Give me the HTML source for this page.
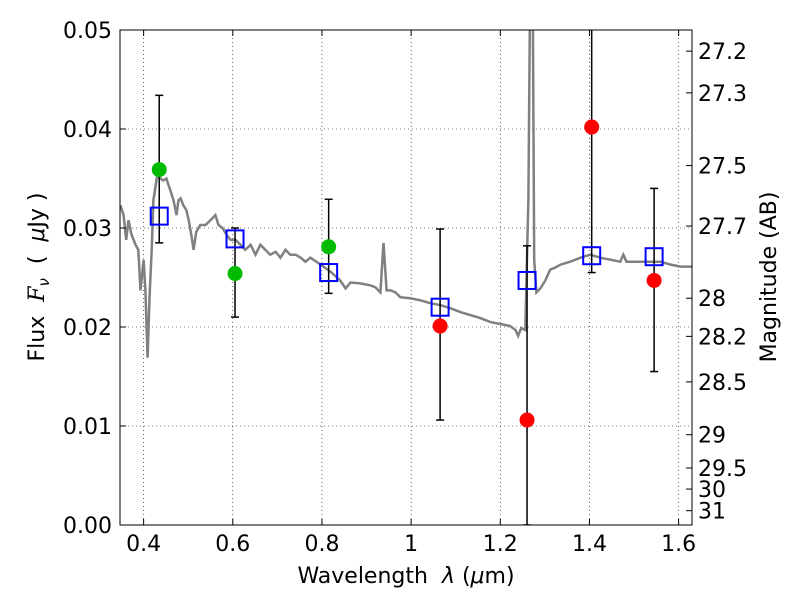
<!DOCTYPE html>
<html><head><meta charset="utf-8"><style>
body{margin:0;background:#fff}
svg text{font-family:"DejaVu Sans","Liberation Sans",sans-serif;fill:#000;white-space:pre}
</style></head><body>
<svg id="chart" width="800" height="600" xmlns="http://www.w3.org/2000/svg">
<defs><clipPath id="clip"><rect x="120" y="30" width="572" height="495"/></clipPath></defs>
<g id="grid"></g>
<g id="spec" clip-path="url(#clip)"></g>
<g id="marks" clip-path="url(#clip)"></g>
<rect x="120" y="30" width="572" height="495" fill="none" stroke="#000" stroke-width="1"/>
<g id="axes"></g>
<text x="406" y="583" font-size="22" text-anchor="middle">Wavelength  <tspan font-style="italic">λ</tspan> (<tspan font-style="italic">μ</tspan>m)</text>
<text transform="translate(44,277) rotate(-90)" font-size="22" text-anchor="middle">Flux  <tspan font-style="italic" font-family="DejaVu Serif">F</tspan><tspan font-size="15" dy="5" font-style="italic">ν</tspan><tspan dy="-5">  (  <tspan font-style="italic">μ</tspan>Jy )</tspan></text>
<text transform="translate(776,277) rotate(-90)" font-size="22" text-anchor="middle">Magnitude (AB)</text>
</svg>
<script>
const specX=[0.348,0.355,0.361,0.366,0.373,0.382,0.388,0.393,0.400,0.404,0.409,0.413,0.418,0.422,0.431,0.438,0.444,0.451,0.456,0.460,0.467,0.474,0.478,0.483,0.489,0.496,0.501,0.507,0.512,0.518,0.527,0.539,0.550,0.561,0.568,0.577,0.586,0.595,0.606,0.617,0.628,0.640,0.651,0.662,0.673,0.684,0.696,0.707,0.718,0.729,0.741,0.752,0.763,0.774,0.797,0.819,0.841,0.853,0.864,0.886,0.909,0.920,0.931,0.938,0.945,0.954,0.965,0.976,0.998,1.021,1.043,1.066,1.088,1.111,1.133,1.155,1.178,1.200,1.222,1.234,1.240,1.247,1.256,1.263,1.268,1.272,1.276,1.281,1.290,1.301,1.312,1.323,1.335,1.357,1.380,1.402,1.424,1.447,1.469,1.476,1.483,1.514,1.559,1.582,1.604,1.631];
const specY=[0.0323,0.0313,0.0288,0.0308,0.0293,0.0283,0.0278,0.0237,0.0268,0.0237,0.0169,0.0227,0.0278,0.0328,0.0354,0.0350,0.0348,0.0350,0.0343,0.0338,0.0328,0.0313,0.0328,0.0330,0.0323,0.0318,0.0308,0.0293,0.0278,0.0296,0.0303,0.0303,0.0308,0.0313,0.0303,0.0300,0.0293,0.0288,0.0288,0.0283,0.0278,0.0283,0.0273,0.0283,0.0278,0.0273,0.0276,0.0270,0.0278,0.0273,0.0273,0.0270,0.0266,0.0270,0.0263,0.0256,0.0247,0.0239,0.0245,0.0244,0.0242,0.0240,0.0235,0.0285,0.0237,0.0237,0.0235,0.0230,0.0229,0.0227,0.0224,0.0222,0.0219,0.0215,0.0212,0.0209,0.0205,0.0203,0.0201,0.0197,0.0191,0.0199,0.0197,0.0330,0.0600,0.0600,0.0268,0.0235,0.0239,0.0247,0.0258,0.0260,0.0263,0.0266,0.0270,0.0273,0.0270,0.0268,0.0266,0.0273,0.0266,0.0266,0.0266,0.0263,0.0261,0.0261];
const bands=[0.435,0.605,0.815,1.065,1.26,1.405,1.545];
const obsFlux=[0.0359,0.0254,0.0281,0.0201,0.0106,0.0402,0.0247];
const obsColor=["#00bb00","#00bb00","#00bb00","#ff0000","#ff0000","#ff0000","#ff0000"];
const errLo=[0.0285,0.0210,0.0234,0.0106,0.0,0.0255,0.0155];
const errHi=[0.0434,0.0300,0.0329,0.0299,0.0282,0.0600,0.0340];
const modelFlux=[0.0312,0.0289,0.0255,0.0220,0.0247,0.0272,0.0271];
const xTicks=[0.4,0.6,0.8,1.0,1.2,1.4,1.6];
const xLabels=["0.4","0.6","0.8","1","1.2","1.4","1.6"];
const yTicks=[0,0.01,0.02,0.03,0.04,0.05];
const yLabels=["0.00","0.01","0.02","0.03","0.04","0.05"];
const magTicks=[27.2,27.3,27.5,27.7,28,28.2,28.5,29,29.5,30,31];

const X0=0.347,X1=1.630,Y0=0,Y1=0.05,L=120,R=692,T=30,B=525;
const sx=v=>L+(v-X0)/(X1-X0)*(R-L);
const sy=v=>B-(v-Y0)/(Y1-Y0)*(B-T);
const NS="http://www.w3.org/2000/svg";
function mk(tag,parent,attrs){const e=document.createElementNS(NS,tag);for(const k in attrs)e.setAttribute(k,attrs[k]);parent.appendChild(e);return e;}
const grid=document.getElementById('grid'),axes=document.getElementById('axes'),spec=document.getElementById('spec'),marks=document.getElementById('marks');
xTicks.forEach((t,i)=>{const x=sx(t);
 const g=mk('line',grid,{x1:x,x2:x,y1:T,y2:B,stroke:'#000','stroke-width':0.6,'stroke-dasharray':'1,3'});
 
 mk('line',axes,{x1:x,x2:x,y1:B,y2:B-6,stroke:'#000'});mk('line',axes,{x1:x,x2:x,y1:T,y2:T+6,stroke:'#000'});
 const tx=mk('text',axes,{x:x,y:B+26,'font-size':22,'text-anchor':'middle'});tx.textContent=xLabels[i];
 });
yTicks.forEach((t,i)=>{const y=sy(t);
 if(t>0&&t<0.05){const g=mk('line',grid,{x1:L,x2:R,y1:y,y2:y,stroke:'#000','stroke-width':0.6,'stroke-dasharray':'1,3'});
 }
 mk('line',axes,{x1:L,x2:L+6,y1:y,y2:y,stroke:'#000'});
 const tx=mk('text',axes,{x:L-8,y:y+8,'font-size':22,'text-anchor':'end'});tx.textContent=yLabels[i];
 });
magTicks.forEach(m=>{const y=sy(Math.pow(10,(23.9-m)/2.5));
 mk('line',axes,{x1:R,x2:R-6,y1:y,y2:y,stroke:'#000'});
 const tx=mk('text',axes,{x:R+6,y:y+8,'font-size':22});tx.textContent=String(m);
 });
const pts=specX.map((v,i)=>sx(v).toFixed(1)+','+sy(specY[i]).toFixed(1)).join(' ');
const pl=mk('polyline',spec,{points:pts,fill:'none',stroke:'#808080','stroke-width':2.5});

bands.forEach((b,i)=>{const x=sx(b);
 const e=mk('line',marks,{x1:x,x2:x,y1:sy(errLo[i]),y2:sy(errHi[i]),stroke:'#000','stroke-width':1.5});
 
 mk('line',marks,{x1:x-4,x2:x+4,y1:sy(errLo[i]),y2:sy(errLo[i]),stroke:'#000','stroke-width':1.5});
 mk('line',marks,{x1:x-4,x2:x+4,y1:sy(errHi[i]),y2:sy(errHi[i]),stroke:'#000','stroke-width':1.5});
 const c=mk('circle',marks,{cx:x,cy:sy(obsFlux[i]),r:7.5,fill:obsColor[i]});
 
 const s=mk('rect',marks,{x:x-8.5,y:sy(modelFlux[i])-8.5,width:17,height:17,fill:'none',stroke:'#0000ff','stroke-width':2});
 });
</script>
</body></html>
